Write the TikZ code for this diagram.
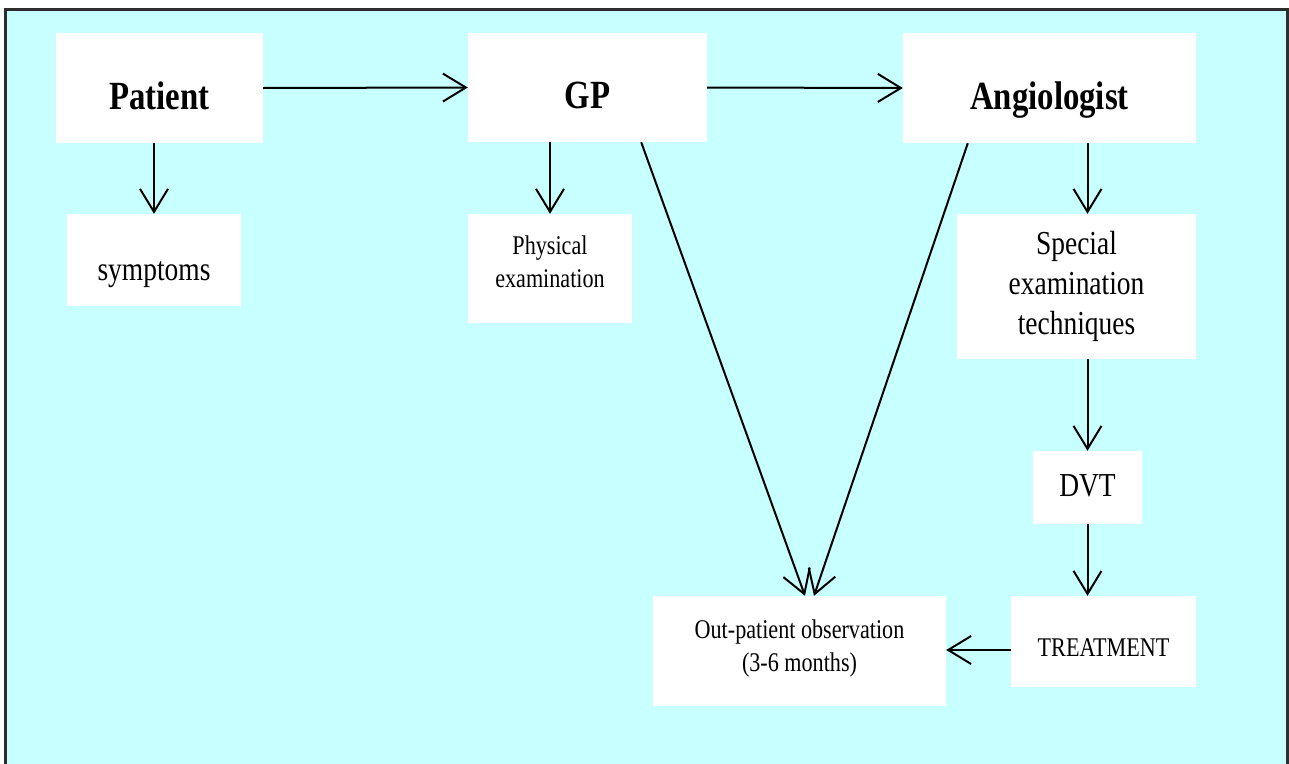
\documentclass[tikz,border=0pt]{standalone}
\usepackage{fontspec}
\setmainfont[FakeStretch=0.82]{Liberation Serif}
\usepackage{tikz}
\usetikzlibrary{arrows.meta,calc}
\definecolor{bgcyan}{RGB}{200,255,255}
\definecolor{framegray}{RGB}{45,45,45}
\tikzstyle{box}=[fill=white, inner sep=0pt, align=center]
\tikzstyle{headfont}=[font=\fontsize{40}{48}\selectfont\bfseries, text height=42pt, text depth=0pt]
\tikzstyle{bigfont}=[font=\fontsize{33.5}{40}\selectfont]
\tikzstyle{smallfont}=[font=\fontsize{27}{33}\selectfont]
\tikzstyle{link}=[line width=2pt, -{Straight Barb[length=23pt,width=28pt]}]

\begin{document}
\begin{tikzpicture}[x=1pt,y=-1pt]
	\useasboundingbox (0,0) rectangle (1289,763);
	\begin{scope}
		\clip (0,0) rectangle (1289,763);
		\draw[line width=3pt, draw=framegray, fill=bgcyan] (5,9) rectangle (1287.5,800);
	\end{scope}
	% top row
	\node[box,headfont,minimum width=207pt,minimum height=110pt] (patient) at (159.5,88) {Patient};
	\node[box,headfont,minimum width=239pt,minimum height=109pt] (gp) at (587.5,87.5) {GP};
	\node[box,headfont,minimum width=293pt,minimum height=110pt] (angio) at (1049.5,88) {Angiologist};
	% second row
	\node[box,bigfont,text height=40pt,text depth=0pt,minimum width=174pt,minimum height=92pt] (symptoms) at (154,260) {symptoms};
	\node[box,smallfont,text depth=14pt,minimum width=164pt,minimum height=109pt] (physical) at (550,268.5) {Physical\\examination};
	\node[box,bigfont,minimum width=239pt,minimum height=145pt] (special) at (1076.5,286.5) {Special\\examination\\techniques};
	% lower part
	\node[box,bigfont,text height=17pt,text depth=0pt,minimum width=109pt,minimum height=73pt] (dvt) at (1087.5,487.5) {DVT};
	\node[box,smallfont,text height=29pt,text depth=0pt,minimum width=185pt,minimum height=91pt] (treatment) at (1103.5,641.5) {TREATMENT};
	\node[box,smallfont,text depth=10pt,minimum width=293pt,minimum height=110pt] (outpat) at (799.5,651) {Out-patient observation\\(3-6 months)};
	% arrows
	\draw[link] (patient.east) -- (gp.west);
	\draw[link] (gp.east) -- (angio.west);
	\draw[link] (symptoms.north |- patient.south) -- (symptoms.north);
	\draw[link] (physical.north |- gp.south) -- (physical.north);
	\draw[link] ($(gp.south east)+(-66,0)$) -- ($(outpat.north)+(5.5,0)$);
	\draw[link] ($(angio.south west)+(65,0)$) -- ($(outpat.north)+(14.5,0)$);
	\draw[link] (dvt.north |- angio.south) -- (dvt.north |- special.north);
	\draw[link] (dvt.north |- special.south) -- (dvt.north);
	\draw[link] (dvt.south) -- (dvt.south |- treatment.north);
	\draw[link] (treatment.west |- 0,650) -- (outpat.east |- 0,650);
\end{tikzpicture}
\end{document}
